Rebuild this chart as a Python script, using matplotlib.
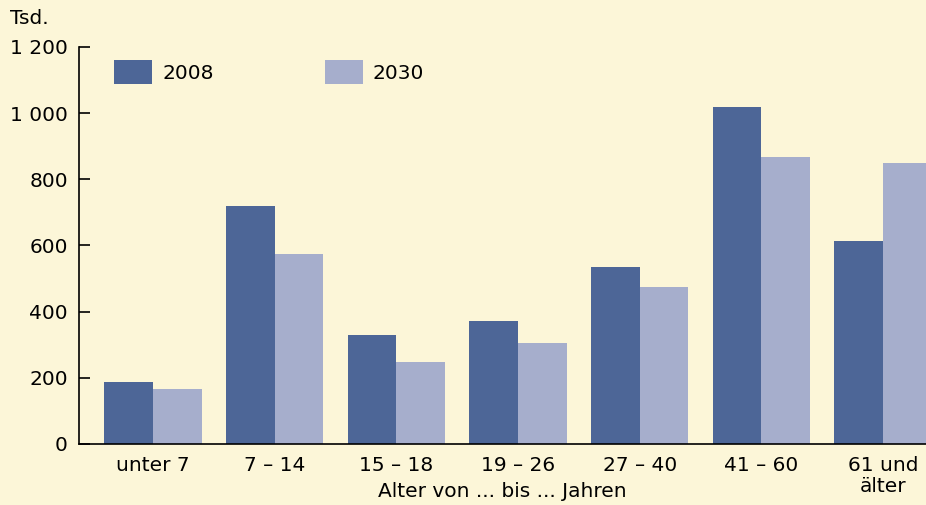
import numpy as np
import matplotlib.pyplot as plt

plt.rcParams['font.family'] = ['DejaVu Sans']

# Data
categories = ['unter 7', '7 – 14', '15 – 18', '19 – 26', '27 – 40', '41 – 60', '61 und\nälter']
values_2008 = [187, 718, 329, 371, 534, 1019, 612]
values_2030 = [166, 573, 247, 305, 473, 868, 850]
yticks = [0, 200, 400, 600, 800, 1000, 1200]
ytick_labels = ['0', '200', '400', '600', '800', '1 000', '1 200']

bg = '#fcf6d8'
dark = '#4d6697'
light = '#a6aecc'
fs = 14.5

fig = plt.figure(figsize=(9.26, 5.05), dpi=100, facecolor=bg)
ax = fig.add_axes([0.0853, 0.121, 0.9147, 0.786], facecolor=bg)

x = np.arange(len(categories))
w = 0.4
b1 = ax.bar(x - w / 2, values_2008, width=w, color=dark, label='2008')
b2 = ax.bar(x + w / 2, values_2030, width=w, color=light, label='2030')

ax.set_xlim(-0.608, 6.353)
ax.set_ylim(0, 1200)
ax.set_yticks(yticks)
ax.set_yticklabels(ytick_labels)
ax.set_xticks(x)
ax.set_xticklabels(categories, linespacing=1.1)

ax.spines['top'].set_visible(False)
ax.spines['right'].set_visible(False)
ax.spines['left'].set_linewidth(1.2)
ax.spines['bottom'].set_linewidth(1.2)
ax.tick_params(axis='y', direction='in', length=8, width=1.2, labelsize=fs, pad=8)
ax.tick_params(axis='x', length=0, labelsize=fs, pad=9)

# axis title placed directly (the two-line tick label would push it off the figure)
fig.text(0.542, 0.027, 'Alter von ... bis ... Jahren', fontsize=fs, ha='center', va='center')
fig.text(0.011, 0.963, 'Tsd.', fontsize=fs, va='center', ha='left')

ax.legend(handles=[b1, b2], loc='upper left', bbox_to_anchor=(0.02, 1.012),
          ncol=2, frameon=False, fontsize=fs, handlelength=1.9,
          handleheight=1.4, handletextpad=0.5, columnspacing=5.5)

fig.savefig('out.png', dpi=100, facecolor=bg)
